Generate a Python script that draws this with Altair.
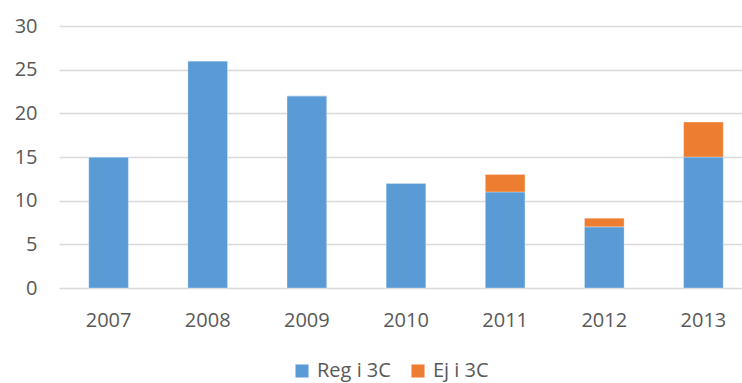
import altair as alt
import pandas as pd

years = ["2007", "2008", "2009", "2010", "2011", "2012", "2013"]
reg = [15, 26, 22, 12, 11, 7, 15]
ej = [0, 0, 0, 0, 2, 1, 4]
series = ["Reg i 3C", "Ej i 3C"]
colors = ["#5B9BD5", "#ED7D31"]

rows = []
for y, r, e in zip(years, reg, ej):
    rows.append({"year": y, "series": series[0], "value": r, "ord": 0})
    rows.append({"year": y, "series": series[1], "value": e, "ord": 1})
df = pd.DataFrame(rows)

font = "Open Sans"
chart = alt.Chart(df).mark_bar(stroke="white", strokeWidth=0.5, strokeOpacity=0.6).encode(
    x=alt.X("year:N", sort=years, title=None,
            scale=alt.Scale(paddingInner=0.6, paddingOuter=0.3, range=[0, 694]),
            axis=alt.Axis(labelAngle=0, ticks=False, domain=False, labelPadding=22,
                          labelFontSize=20, labelColor="#595959", labelFont=font)),
    y=alt.Y("value:Q", stack="zero", title=None,
            scale=alt.Scale(domain=[0, 30], nice=False),
            axis=alt.Axis(values=[0, 5, 10, 15, 20, 25, 30], ticks=False, domain=False,
                          labelPadding=22, labelFontSize=20, labelColor="#595959",
                          labelFont=font, gridColor="#D9D9D9", gridWidth=1.5)),
    color=alt.Color("series:N", sort=series,
                    scale=alt.Scale(domain=series, range=colors),
                    legend=alt.Legend(title=None, orient="none", legendX=233, legendY=335,
                                      direction="horizontal", symbolType="square",
                                      symbolSize=170, symbolStrokeWidth=0,
                                      labelFontSize=20, labelColor="#595959",
                                      labelFont=font, columnPadding=17, labelOffset=5,
                                      gridAlign="none")),
    order=alt.Order("ord:Q"),
).properties(
    width=683, height=262,
    autosize=alt.AutoSizeParams(type="none"),
    padding={"left": 59, "top": 26, "right": 0, "bottom": 95},
).configure_view(stroke=None)

chart.save("out.html", embed_options={"renderer": "svg", "actions": False})
